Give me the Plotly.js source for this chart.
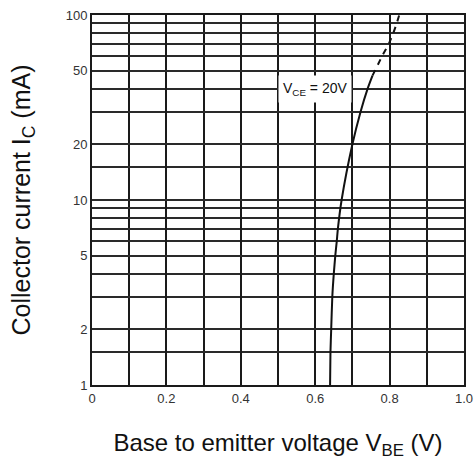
<!DOCTYPE html>
<html><head><meta charset="utf-8">
<script src="https://cdn.plot.ly/plotly-3.0.1.min.js"></script>
<style>html,body{margin:0;padding:0;background:#fff}</style>
</head><body><div id="chart" style="width:475px;height:467px"></div>
<script>
// Solid part of the V_CE = 20 V curve
const vbeSolid = [0.640, 0.641, 0.643, 0.646, 0.650, 0.654, 0.658, 0.661, 0.671, 0.700, 0.722, 0.741, 0.754];
const icSolid  = [1, 1.5, 2, 3, 4, 5, 6, 7, 10, 20, 30, 40, 47];
// Dashed (extrapolated) part
const vbeDash = [0.754, 0.780, 0.798, 0.810, 0.819, 0.826];
const icDash  = [47, 60, 70, 80, 90, 100];
// Axis ticks and grid
const xTickVals = [0, 0.2, 0.4, 0.6, 0.8, 1.0];
const xTickText = ['0', '0.2', '0.4', '0.6', '0.8', '1.0'];
const xMinorVals = [0.1, 0.3, 0.5, 0.7, 0.9];
const yTickVals = [1, 2, 5, 10, 20, 50, 100];
const yTickText = ['1', '2', '5', '10', '20', '50', '100'];
const yMinorVals = [1.5, 3, 4, 6, 7, 8, 9, 15, 30, 40, 60, 70, 80, 90];
const curveLabel = 'V<sub>CE</sub> = 20V';

const fontFam = 'Liberation Sans, Arial, sans-serif';
const data = [
  {x: vbeSolid, y: icSolid, mode: 'lines', line: {color: '#111', width: 2, shape: 'spline', smoothing: 0.6}, hoverinfo: 'skip'},
  {x: vbeDash, y: icDash, mode: 'lines', line: {color: '#111', width: 2, dash: '6px,6px', shape: 'spline', smoothing: 0.6}, hoverinfo: 'skip'}
];
const gridV = {showgrid: true, gridcolor: '#1a1a1a', gridwidth: 2};
const gridH = {showgrid: true, gridcolor: '#2a2a2a', gridwidth: 2};
const layout = {
  width: 475, height: 467,
  margin: {l: 92, r: 11, t: 15, b: 82},
  paper_bgcolor: '#fff', plot_bgcolor: '#fff',
  showlegend: false,
  font: {family: fontFam, color: '#222'},
  xaxis: Object.assign({
    range: [0, 1], tickmode: 'array', tickvals: xTickVals, ticktext: xTickText,
    minor: Object.assign({tickmode: 'array', tickvals: xMinorVals, ticks: ''}, gridV),
    zeroline: false, showline: true, linecolor: '#1a1a1a', linewidth: 2, mirror: true,
    ticks: '', tickfont: {size: 13, color: '#333'},
    title: {text: 'Base to emitter voltage V<sub>BE</sub> (V)', font: {size: 24, color: '#111'}, standoff: 30}
  }, gridV),
  yaxis: Object.assign({
    type: 'log', range: [0, 2], tickmode: 'array', tickvals: yTickVals, ticktext: yTickText,
    minor: Object.assign({tickmode: 'array', tickvals: yMinorVals, ticks: ''}, gridH),
    zeroline: false, showline: true, linecolor: '#1a1a1a', linewidth: 2, mirror: true,
    ticks: '', tickfont: {size: 13, color: '#333'},
    title: {text: 'Collector current I<sub>C</sub> (mA)', font: {size: 25, color: '#111'}, standoff: 28}
  }, gridH),
  annotations: [{
    x: 0.60, y: Math.log10(40), xref: 'x', yref: 'y',
    text: curveLabel, showarrow: false,
    font: {size: 14, color: '#111', family: fontFam},
    bgcolor: '#fff', borderpad: 4
  }]
};
Plotly.newPlot('chart', data, layout, {staticPlot: true, displayModeBar: false});
</script></body></html>
